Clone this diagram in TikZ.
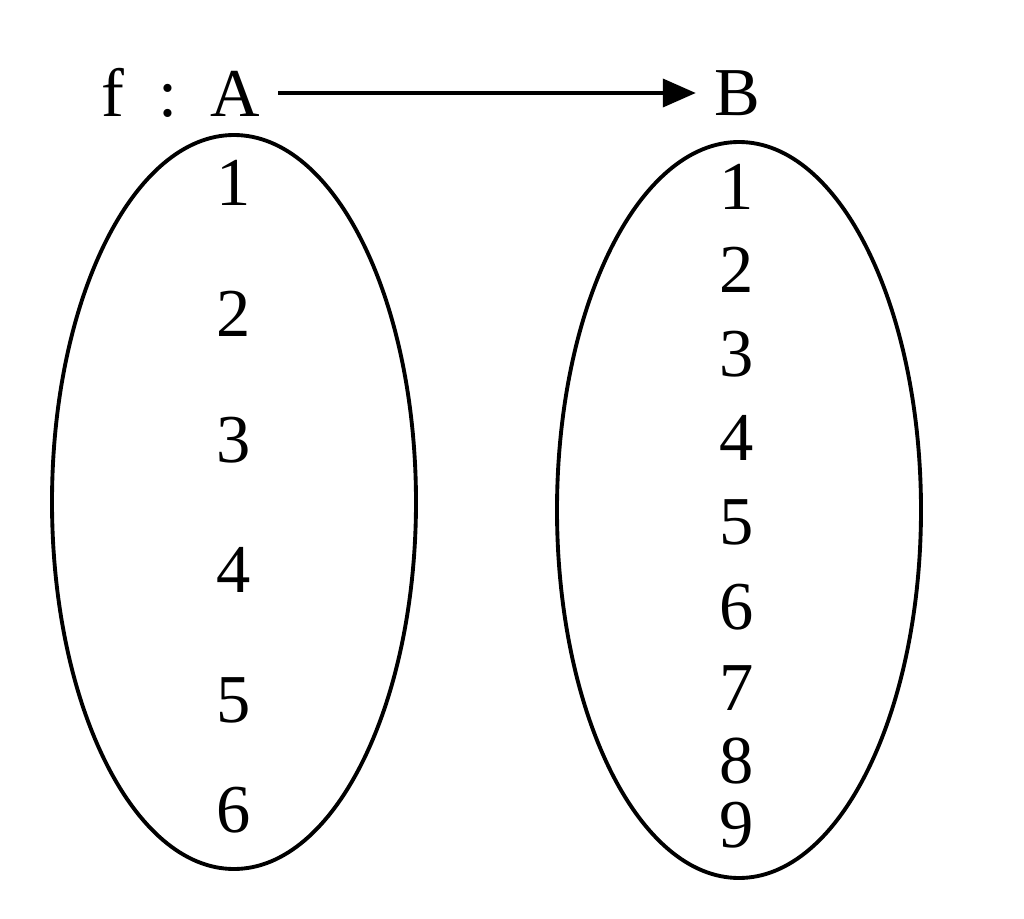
\documentclass[tikz,border=0pt]{standalone}
\usepackage{fontspec}
\setmainfont{Liberation Serif}
\usetikzlibrary{arrows.meta}
\begin{document}
\begin{tikzpicture}[x=0.02cm,y=-0.02cm,
  lbl/.style={inner sep=0pt,font=\fontsize{39}{41}\selectfont},
  setshape/.style={draw=black,line width=2.2pt},
  maparrow/.style={line width=2.2pt,-{Triangle[length=0.66cm,width=0.56cm]},shorten <=0.36cm,shorten >=0.36cm}]
\useasboundingbox[fill=white] (0,0) rectangle (1024,919);
\draw[setshape] (234,502) ellipse [x radius=182, y radius=367];
\draw[setshape] (739,510) ellipse [x radius=182, y radius=368];
\node[lbl] (fa) at (181,93) {f\hspace{19pt}:\hspace{19pt}A};
\node[lbl] (B) at (737,93) {B};
\draw[maparrow] (fa.east) -- (B.west);
\node[lbl] (a1) at (234,183) {1};
\node[lbl] (a2) at (234,314) {2};
\node[lbl] (a3) at (234,440) {3};
\node[lbl] (a4) at (234,570) {4};
\node[lbl] (a5) at (234,700) {5};
\node[lbl] (a6) at (234,810) {6};
\node[lbl] (b1) at (737,187) {1};
\node[lbl] (b2) at (737,270) {2};
\node[lbl] (b3) at (737,354) {3};
\node[lbl] (b4) at (737,438) {4};
\node[lbl] (b5) at (737,522) {5};
\node[lbl] (b6) at (737,607) {6};
\node[lbl] (b7) at (737,688) {7};
\node[lbl] (b8) at (737,761) {8};
\node[lbl] (b9) at (737,825) {9};
\end{tikzpicture}
\end{document}
